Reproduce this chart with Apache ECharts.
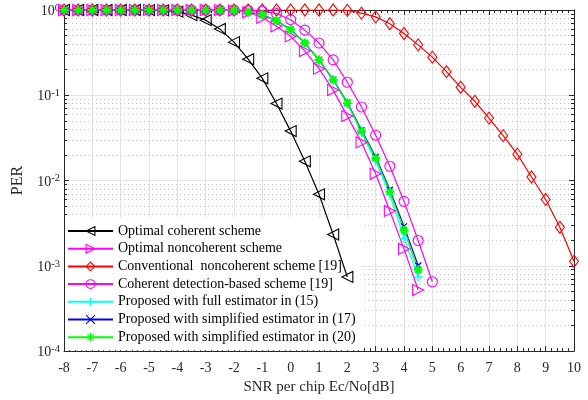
<!DOCTYPE html>
<html>
<head>
<meta charset="utf-8">
<script src="https://cdn.jsdelivr.net/npm/echarts@6/dist/echarts.min.js"></script>
<style>
  html, body { margin: 0; padding: 0; background: #fff; }
  #chart { width: 588px; height: 400px; }
</style>
</head>
<body>
<div id="chart"></div>
<script>
// SNR per chip (dB), one point every 0.5 dB
const snr = [-8, -7.5, -7, -6.5, -6, -5.5, -5, -4.5, -4, -3.5, -3, -2.5, -2, -1.5, -1, -0.5,
  0, 0.5, 1, 1.5, 2, 2.5, 3, 3.5, 4, 4.5, 5, 5.5, 6, 6.5, 7, 7.5, 8, 8.5, 9, 9.5, 10]

const seriesNames = [
  'Optimal coherent scheme',
  'Optimal noncoherent scheme',
  'Conventional  noncoherent scheme [19]',
  'Coherent detection-based scheme [19]',
  'Proposed with full estimator in (15)',
  'Proposed with simplified estimator in (17)',
  'Proposed with simplified estimator in (20)'
]

// PER values, starting at -8 dB
const optCoherent = [1, 1, 1, 1, 1, 1, 0.998, 0.99, 0.955, 0.87, 0.76, 0.60, 0.42, 0.265,
  0.158, 0.080, 0.038, 0.0168, 0.0069, 0.00233, 0.00074]
const optNoncoherent = [1, 1, 1, 1, 1, 1, 1, 1, 1, 1, 1, 0.997, 0.985, 0.94, 0.81, 0.645,
  0.49, 0.33, 0.205, 0.115, 0.057, 0.028, 0.012, 0.0044, 0.00158, 0.00052]
const conventional = [1, 1, 1, 1, 1, 1, 1, 1, 1, 1, 1, 1, 1, 1, 1, 1, 1, 1, 1, 1, 0.99,
  0.92, 0.83, 0.69, 0.53, 0.39, 0.28, 0.189, 0.124, 0.085, 0.054, 0.0336, 0.0204, 0.011,
  0.006, 0.00283, 0.00113]
const coherentDet = [1, 1, 1, 1, 1, 1, 1, 1, 1, 1, 1, 1, 1, 0.99, 0.97, 0.91, 0.77, 0.58,
  0.41, 0.26, 0.142, 0.073, 0.034, 0.0147, 0.0057, 0.00198, 0.00065]
const propFull = [1, 1, 1, 1, 1, 1, 1, 1, 1, 1, 1, 1, 0.99, 0.95, 0.88, 0.75, 0.59, 0.41,
  0.26, 0.150, 0.080, 0.036, 0.017, 0.0068, 0.0021, 0.00074]
const propSimp17 = [1, 1, 1, 1, 1, 1, 1, 1, 1, 1, 1, 1, 0.99, 0.95, 0.88, 0.75, 0.59, 0.41,
  0.26, 0.153, 0.082, 0.039, 0.019, 0.0078, 0.0029, 0.00101]
const propSimp20 = [1, 1, 1, 1, 1, 1, 1, 1, 1, 1, 1, 1, 0.99, 0.95, 0.88, 0.75, 0.59, 0.41,
  0.26, 0.152, 0.081, 0.038, 0.0183, 0.0074, 0.0026, 0.0009]

const xTicks = [-8, -7, -6, -5, -4, -3, -2, -1, 0, 1, 2, 3, 4, 5, 6, 7, 8, 9, 10]

const fontFamily = 'Liberation Serif'
const axisColor = '#262626'
const clear = 'rgba(0,0,0,0)'

// minor log positions (2..9 in each decade), in log10 space
const minorLog = []
for (let k = -4; k < 0; k++) {
  for (let m = 2; m <= 9; m++) minorLog.push(k + Math.log10(m))
}

const pair = (ys) => ys.map((y, i) => [snr[i], y])

const makeSeries = (name, ys, color, symbol, size, rotate, width) => ({
  name,
  type: 'line',
  z: 3,
  data: pair(ys),
  symbol,
  symbolSize: size,
  symbolRotate: rotate || 0,
  showSymbol: true,
  lineStyle: { color, width: 1.2 },
  itemStyle: { color: clear, borderColor: color, borderWidth: width || 1.1 },
  emphasis: { disabled: true },
  animation: false
})

const plusPath = 'path://M5,0L5,10M0,5L10,5'
const crossPath = 'path://M0,0L10,10M10,0L0,10'
const starPath = 'path://M5,0L5,10M0,5L10,5M1.5,1.5L8.5,8.5M8.5,1.5L1.5,8.5'

const chart = echarts.init(document.getElementById('chart'))

const hiddenLabel = { show: false }

const option = {
  backgroundColor: '#fff',
  textStyle: { fontFamily },
  grid: { left: 64, right: 14, top: 10, bottom: 45 },
  legend: {
    orient: 'vertical',
    z: 1,
    left: 65,
    top: 218,
    padding: [5, 5, 5, 2],
    backgroundColor: '#fff',
    itemWidth: 45,
    itemHeight: 11,
    itemGap: 1.7,
    itemStyle: { color: clear, borderColor: 'inherit', borderWidth: 1.1 },
    textStyle: { fontFamily, fontSize: 14, lineHeight: 16, color: '#000' },
    data: seriesNames
  },
  xAxis: [
    {
      type: 'value',
      min: -8,
      max: 10,
      interval: 1,
      position: 'bottom',
      name: 'SNR per chip Ec/No[dB]',
      nameLocation: 'middle',
      nameGap: 24,
      nameTextStyle: { fontFamily, fontSize: 15, color: axisColor },
      axisLine: { onZero: false, lineStyle: { color: axisColor, width: 1 } },
      axisTick: { inside: true, length: 5, lineStyle: { color: axisColor } },
      minorTick: { show: true, splitNumber: 5, length: 3, lineStyle: { color: axisColor } },
      axisLabel: {
        fontFamily, fontSize: 14, color: axisColor, margin: 10,
        customValues: xTicks
      },
      splitLine: { show: true, lineStyle: { color: '#e4e4e4', width: 1 } }
    },
    {
      type: 'value',
      min: -8,
      max: 10,
      interval: 1,
      position: 'top',
      axisLine: { onZero: false, lineStyle: { color: axisColor, width: 1 } },
      axisTick: { inside: true, length: 5, lineStyle: { color: axisColor } },
      minorTick: { show: true, splitNumber: 5, length: 3, lineStyle: { color: axisColor } },
      axisLabel: hiddenLabel,
      splitLine: { show: false }
    }
  ],
  yAxis: [
    {
      type: 'log',
      logBase: 10,
      min: 1e-4,
      max: 1,
      position: 'left',
      name: 'PER',
      nameLocation: 'middle',
      nameGap: 38,
      nameTextStyle: { fontFamily, fontSize: 16, color: axisColor },
      axisLine: { show: true, onZero: false, lineStyle: { color: axisColor, width: 1 } },
      axisTick: { inside: true, length: 5, lineStyle: { color: axisColor } },
      axisLabel: {
        margin: 4,
        color: axisColor,
        formatter: (v) => '{b|10}{s|' + Math.round(Math.log10(v)) + '}',
        rich: {
          b: { fontFamily, fontSize: 14, lineHeight: 15, padding: [3, 0, 0, 0], color: axisColor },
          s: { fontFamily, fontSize: 10.5, lineHeight: 10, verticalAlign: 'top', color: axisColor }
        }
      },
      splitLine: { show: true, lineStyle: { color: '#e4e4e4', width: 1 } }
    },
    {
      type: 'log',
      logBase: 10,
      min: 1e-4,
      max: 1,
      position: 'right',
      axisLine: { show: true, onZero: false, lineStyle: { color: axisColor, width: 1 } },
      axisTick: { inside: true, length: 5, lineStyle: { color: axisColor } },
      axisLabel: hiddenLabel,
      splitLine: { show: false }
    },
    // dotted minor grid, drawn as long inside ticks
    {
      type: 'value',
      min: -4,
      max: 0,
      position: 'left',
      axisLine: { show: false, onZero: false },
      axisTick: {
        show: true, inside: true, length: 510, customValues: minorLog,
        lineStyle: { color: '#c4c4c4', width: 1, type: [1, 3] }
      },
      axisLabel: hiddenLabel,
      splitLine: { show: false }
    },
    // short minor ticks on the left and right edges
    {
      type: 'value',
      min: -4,
      max: 0,
      position: 'left',
      axisLine: { show: false, onZero: false },
      axisTick: {
        show: true, inside: true, length: 3, customValues: minorLog,
        lineStyle: { color: axisColor, width: 1 }
      },
      axisLabel: hiddenLabel,
      splitLine: { show: false }
    },
    {
      type: 'value',
      min: -4,
      max: 0,
      position: 'right',
      axisLine: { show: false, onZero: false },
      axisTick: {
        show: true, inside: true, length: 3, customValues: minorLog,
        lineStyle: { color: axisColor, width: 1 }
      },
      axisLabel: hiddenLabel,
      splitLine: { show: false }
    }
  ],
  series: [
    makeSeries(seriesNames[0], optCoherent, '#000000', 'triangle', 11, 90),
    makeSeries(seriesNames[1], optNoncoherent, '#ff00ff', 'triangle', 11, -90),
    makeSeries(seriesNames[2], conventional, '#ff0000', 'diamond', [9, 12]),
    makeSeries(seriesNames[3], coherentDet, '#ff00ff', 'circle', 10),
    makeSeries(seriesNames[4], propFull, '#00ffff', plusPath, 9, 0, 1.3),
    makeSeries(seriesNames[5], propSimp17, '#0000ff', crossPath, 6, 0, 1.3),
    makeSeries(seriesNames[6], propSimp20, '#00ff00', starPath, 9, 0, 1.9)
  ]
}

chart.setOption(option)
</script>
</body>
</html>
